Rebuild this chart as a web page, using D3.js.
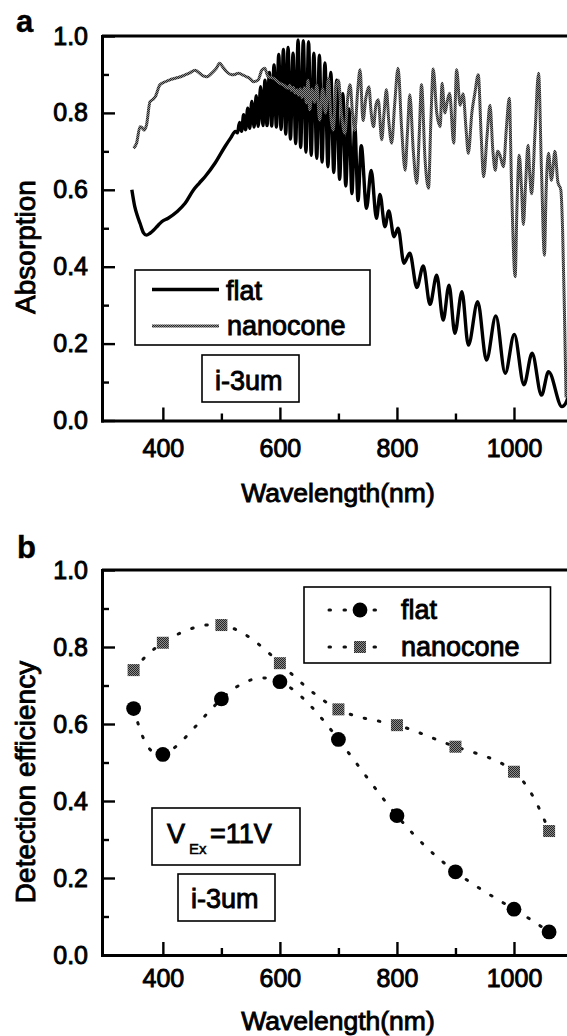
<!DOCTYPE html>
<html>
<head>
<meta charset="utf-8">
<script src="https://cdn.jsdelivr.net/npm/d3@7"></script>
<style>
  html, body { margin: 0; padding: 0; background: #fff; }
  svg { display: block; }
  text { font-family: "Liberation Sans", Arial, sans-serif; fill: #000; stroke: #000; stroke-width: 0.9px; }
</style>
</head>
<body>
<svg id="fig" width="567" height="1036"></svg>
<script>
// ---- Panel a: absorption spectra, [wavelength nm, absorption] ----
const flatAbsorption = [
  [347,0.600],[352,0.556],[357,0.530],[361,0.513],[367,0.488],[372,0.482],[378,0.487],[384,0.495],
  [391,0.506],[398,0.517],[409,0.526],[424,0.543],[438,0.565],[452,0.599],[462,0.617],[472,0.634],
  [489,0.669],[506,0.712],[516,0.735],
  [524,0.752],[527.5,0.748],[531,0.775],[534.5,0.752],[538,0.795],[541.5,0.756],[545,0.812],[548.5,0.760],
  [552,0.830],[556,0.763],[559.5,0.845],[563,0.765],[567,0.868],[571,0.767],[574.5,0.885],[578,0.767],
  [582,0.905],[586,0.766],[590,0.925],[594,0.763],[598,0.952],[602,0.757],[606,0.965],[610,0.745],
  [614,0.970],[618,0.732],[622.5,0.955],[627,0.720],[631,0.990],[635.5,0.710],[640,0.988],[644.5,0.698],
  [649,0.985],[653.5,0.690],[658,0.955],[663,0.682],[667.5,0.950],[672,0.672],[677,0.930],[682,0.660],
  [687,0.905],[692,0.645],[697,0.885],[702,0.627],[707.5,0.850],[712.5,0.610],[718,0.810],[723,0.590],
  [728,0.765],[733.5,0.572],[739,0.715],[748,0.552],[756,0.650],[765,0.526],[771,0.588],[779.5,0.504],
  [786,0.545],[795,0.478],[802,0.500],[812,0.409],[822,0.435],[834,0.346],[845,0.402],[856.5,0.302],
  [868,0.378],[879,0.261],[889,0.352],[899,0.227],[911,0.335],[922,0.196],[938,0.309],[953,0.157],
  [969,0.272],[985,0.123],[1000.5,0.224],[1017,0.093],[1031,0.175],[1047,0.066],[1059,0.127],
  [1082,0.036],[1090,0.050],[1096,0.080]
];

const nanoconeAbsorption = [
  [350,0.708],[355,0.721],[361,0.764],[364,0.762],[368,0.755],[372,0.768],[378,0.829],[383,0.835],
  [387,0.842],[395,0.873],[404,0.881],[412,0.886],[421,0.890],[430,0.894],[438,0.899],[447,0.905],
  [455,0.911],[463,0.903],[469,0.896],[475,0.894],[484,0.904],[491,0.915],[497,0.929],[503,0.918],
  [509,0.907],[518,0.899],[523,0.900],[529,0.903],[536,0.899],[543,0.894],[549,0.889],[555,0.881],
  [563,0.886],[569,0.911],[574,0.916],[580,0.894],[589,0.890],[595,0.883],[600,0.877],[607,0.872],
  [614,0.864],[617,0.872],[620,0.858],[623,0.866],[626,0.852],[629,0.860],[632,0.846],[635,0.862],
  [638,0.840],[642,0.866],[645,0.826],[648,0.885],[651,0.808],[655,0.862],[659,0.828],[663,0.872],
  [668,0.781],[673,0.862],[678,0.800],[683,0.890],[687,0.792],[691,0.755],[696,0.868],[700,0.885],
  [705,0.800],[711,0.747],[716,0.840],[720,0.873],[724,0.800],[728,0.755],[733,0.860],[737,0.912],
  [742,0.780],[747,0.840],[752,0.868],[756,0.800],[760,0.764],[764,0.820],[768,0.834],[774,0.730],
  [778,0.800],[782,0.860],[786,0.780],[791,0.721],[796,0.820],[802,0.916],[808,0.760],[814,0.651],
  [818,0.750],[822,0.847],[828,0.700],[834,0.617],[838,0.740],[842,0.873],[848,0.680],[854,0.604],
  [858,0.780],[862,0.914],[868,0.800],[874,0.764],[877,0.877],[882,0.800],[886,0.830],[890,0.851],
  [897,0.721],[902,0.912],[908,0.820],[913,0.850],[918,0.760],[922,0.695],[928,0.800],[933,0.850],
  [939,0.899],[944,0.740],[948,0.634],[954,0.740],[959,0.820],[964,0.700],[968,0.651],[972,0.700],
  [976,0.690],[982,0.660],[987,0.760],[992,0.838],[996,0.600],[1002,0.374],[1005,0.550],[1009,0.690],
  [1013,0.600],[1016,0.510],[1020,0.620],[1024,0.716],[1027,0.640],[1030,0.590],[1036,0.750],
  [1042,0.903],[1047,0.650],[1052,0.430],[1055,0.600],[1059,0.695],[1064,0.625],[1070,0.700],
  [1075,0.620],[1080,0.600],[1083,0.500],[1086,0.300],[1089,0.060]
];

// ---- Panel b: detection efficiency at discrete wavelengths ----
const efficiencyWavelengths = [350, 400, 500, 600, 700, 800, 900, 1000, 1060];
const flatEfficiency        = [0.640, 0.521, 0.665, 0.710, 0.560, 0.362, 0.216, 0.119, 0.060];
const nanoconeEfficiency    = [0.740, 0.811, 0.857, 0.758, 0.638, 0.597, 0.541, 0.476, 0.322];

// ---- Axis ticks ----
const yMajorTicks = [0, 0.2, 0.4, 0.6, 0.8, 1.0];
const yMinorTicks = [0.1, 0.3, 0.5, 0.7, 0.9];
const yTickLabels = ["0.0", "0.2", "0.4", "0.6", "0.8", "1.0"];
const xMajorTicks = [400, 600, 800, 1000];
const xMinorTicks = [500, 700, 900];
const xTickLabels = ["400", "600", "800", "1000"];

const svg = d3.select("#fig");

// dithered grey used for the nanocone trace and markers
const defs = svg.append("defs");
const pat = defs.append("pattern").attr("id", "dither")
  .attr("width", 2).attr("height", 2).attr("patternUnits", "userSpaceOnUse");
pat.append("rect").attr("width", 2).attr("height", 2).attr("fill", "#8c8c8c");
pat.append("rect").attr("width", 1).attr("height", 1).attr("fill", "#262626");
pat.append("rect").attr("x", 1).attr("y", 1).attr("width", 1).attr("height", 1).attr("fill", "#262626");

const AXIS_X = 102;
const x = d3.scaleLinear().domain([296, 1100]).range([AXIS_X, 572.5]);
const yA = d3.scaleLinear().domain([0, 1]).range([420.5, 36]);
const yB = d3.scaleLinear().domain([0, 1]).range([955, 570]);

function drawAxes(y, xLabelPad, xTitleY, yTitleCenter, yTitle) {
  const y0 = y(0), y1 = y(1);

  // minor ticks
  svg.append("g").attr("transform", `translate(${AXIS_X},0)`)
    .call(d3.axisLeft(y).tickValues(yMinorTicks).tickSize(-7).tickSizeOuter(0).tickFormat(""))
    .call(g => g.select(".domain").remove());
  svg.append("g").attr("transform", `translate(0,${y0})`)
    .call(d3.axisBottom(x).tickValues(xMinorTicks).tickSize(-7).tickSizeOuter(0).tickFormat(""))
    .call(g => g.select(".domain").remove());

  // major ticks with labels
  const gy = svg.append("g").attr("transform", `translate(${AXIS_X},0)`)
    .call(d3.axisLeft(y).tickValues(yMajorTicks).tickSize(-13).tickSizeOuter(0).tickPadding(14)
      .tickFormat((d, i) => yTickLabels[i]));
  const gx = svg.append("g").attr("transform", `translate(0,${y0})`)
    .call(d3.axisBottom(x).tickValues(xMajorTicks).tickSize(-13).tickSizeOuter(0).tickPadding(xLabelPad)
      .tickFormat((d, i) => xTickLabels[i]));

  [gy, gx].forEach(g => {
    g.attr("font-size", null).attr("font-family", null);
    g.selectAll("text").attr("font-size", 25);
  });

  svg.selectAll(".tick line").attr("stroke", "#000").attr("stroke-width", 2.4);
  svg.selectAll(".domain").attr("stroke", "#000").attr("stroke-width", 3).attr("stroke-linecap", "square");

  // top frame
  svg.append("line").attr("x1", AXIS_X).attr("x2", 572).attr("y1", y1).attr("y2", y1)
    .attr("stroke", "#000").attr("stroke-width", 3);

  // axis titles
  svg.append("text").attr("x", 338).attr("y", xTitleY).attr("text-anchor", "middle")
    .attr("font-size", 26.5).text("Wavelength(nm)");
  svg.append("text").attr("transform", `translate(35,${yTitleCenter}) rotate(-90)`)
    .attr("text-anchor", "middle").attr("font-size", 28).text(yTitle);
}

// ===== Panel a =====
drawAxes(yA, 18.5, 502, 247, "Absorption");
svg.append("text").attr("x", 16).attr("y", 32).attr("font-size", 31).attr("font-weight", "bold")
  .style("stroke-width", "0.4px").text("a");

const specLine = y => d3.line().x(d => x(d[0])).y(d => y(d[1])).curve(d3.curveMonotoneX);

svg.append("path").datum(flatAbsorption).attr("d", specLine(yA))
  .attr("fill", "none").attr("stroke", "#000").attr("stroke-width", 3.4)
  .attr("stroke-linejoin", "round");
svg.append("path").datum(nanoconeAbsorption).attr("d", specLine(yA))
  .attr("fill", "none").attr("stroke", "url(#dither)").attr("stroke-width", 3)
  .attr("stroke-linejoin", "round");

// legend a
svg.append("rect").attr("x", 135).attr("y", 270).attr("width", 235).attr("height", 75)
  .attr("fill", "#fff").attr("stroke", "#000").attr("stroke-width", 1.6);
svg.append("line").attr("x1", 152).attr("x2", 219).attr("y1", 289.5).attr("y2", 289.5)
  .attr("stroke", "#000").attr("stroke-width", 3.4);
svg.append("text").attr("x", 226).attr("y", 300).attr("font-size", 27).text("flat");
svg.append("line").attr("x1", 152).attr("x2", 219).attr("y1", 326).attr("y2", 326)
  .attr("stroke", "url(#dither)").attr("stroke-width", 3);
svg.append("text").attr("x", 227).attr("y", 335).attr("font-size", 27).text("nanocone");

svg.append("rect").attr("x", 202).attr("y", 355).attr("width", 97).attr("height", 47)
  .attr("fill", "#fff").attr("stroke", "#000").attr("stroke-width", 1.6);
svg.append("text").attr("x", 215).attr("y", 390).attr("font-size", 27).text("i-3um");

// ===== Panel b =====
drawAxes(yB, 14.5, 1030, 782, "Detection efficiency");
svg.append("text").attr("x", 17).attr("y", 558).attr("font-size", 31).attr("font-weight", "bold")
  .style("stroke-width", "0.4px").text("b");

const flatPts = efficiencyWavelengths.map((w, i) => [w, flatEfficiency[i]]);
const conePts = efficiencyWavelengths.map((w, i) => [w, nanoconeEfficiency[i]]);
const splineB = d3.line().x(d => x(d[0])).y(d => yB(d[1])).curve(d3.curveNatural);

[conePts, flatPts].forEach(pts => {
  svg.append("path").datum(pts).attr("d", splineB)
    .attr("fill", "none").attr("stroke", "#111").attr("stroke-width", 3)
    .attr("stroke-linecap", "round").attr("stroke-dasharray", "1.5 13");
});

svg.append("g").selectAll("rect").data(conePts).join("rect")
  .attr("x", d => x(d[0]) - 6).attr("y", d => yB(d[1]) - 6)
  .attr("width", 12).attr("height", 12).attr("fill", "url(#dither)");
svg.append("g").selectAll("circle").data(flatPts).join("circle")
  .attr("cx", d => x(d[0])).attr("cy", d => yB(d[1])).attr("r", 7.4).attr("fill", "#000");

// legend b
svg.append("rect").attr("x", 304).attr("y", 587).attr("width", 246.5).attr("height", 76)
  .attr("fill", "#fff").attr("stroke", "#000").attr("stroke-width", 1.6);
[[610, "flat"], [647, "nanocone"]].forEach(([ly, label], i) => {
  svg.append("line").attr("x1", 329).attr("x2", 389).attr("y1", ly).attr("y2", ly)
    .attr("stroke", "#111").attr("stroke-width", 3).attr("stroke-linecap", "round")
    .attr("stroke-dasharray", "1.5 13.5");
  if (i === 0) {
    svg.append("circle").attr("cx", 360).attr("cy", ly).attr("r", 7.4).attr("fill", "#000");
  } else {
    svg.append("rect").attr("x", 354).attr("y", ly - 6).attr("width", 12).attr("height", 12)
      .attr("fill", "url(#dither)");
  }
  svg.append("text").attr("x", 401).attr("y", ly + 8.5).attr("font-size", 27).text(label);
});

svg.append("rect").attr("x", 152).attr("y", 808).attr("width", 148).attr("height", 57)
  .attr("fill", "#fff").attr("stroke", "#000").attr("stroke-width", 1.6);
const vt = svg.append("text").attr("y", 843).attr("font-size", 27);
vt.append("tspan").attr("x", 167).text("V");
vt.append("tspan").attr("x", 189).attr("dy", 11).attr("font-size", 15).style("stroke-width", "0.5px").text("Ex");
vt.append("tspan").attr("x", 210).attr("dy", -11).text("=11V");

svg.append("rect").attr("x", 178).attr("y", 874).attr("width", 97).attr("height", 47)
  .attr("fill", "#fff").attr("stroke", "#000").attr("stroke-width", 1.6);
svg.append("text").attr("x", 191).attr("y", 908).attr("font-size", 27).text("i-3um");
</script>
</body>
</html>
